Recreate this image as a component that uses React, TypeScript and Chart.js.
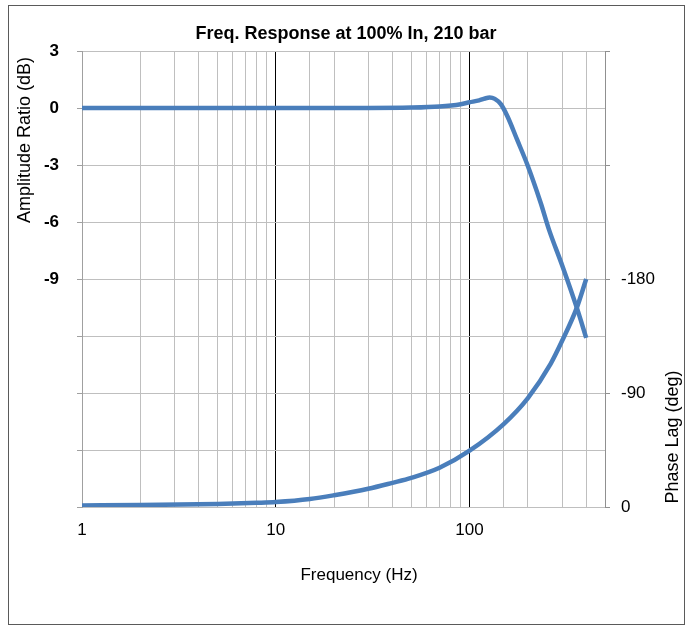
import React, { useEffect, useRef } from "react";
import { Chart, registerables } from "chart.js";

Chart.register(...registerables);

// Amplitude ratio (dB) vs frequency (Hz)
const ampFreqs = [1, 2, 5, 10, 20, 30, 50, 70, 90, 100, 112, 120, 127, 135, 145, 157, 176, 199, 233, 257, 301, 360, 400];
const ampDb = [0, 0, 0, 0, 0, 0, 0.02, 0.08, 0.2, 0.3, 0.4, 0.5, 0.55, 0.48, 0.2, -0.45, -1.67, -3.0, -5.0, -6.4, -8.3, -10.6, -12.1];

// Phase lag (deg) vs frequency (Hz)
const phaseFreqs = [1, 2, 5, 8, 10, 15, 20, 30, 40, 50, 70, 100, 150, 200, 262, 300, 357, 400];
const phaseDeg = [-1.2, -1.5, -2.4, -3.3, -3.9, -6.3, -9.3, -14.4, -19.1, -23, -31, -44.5, -65.5, -86, -113, -131, -157, -180];

const xLabeled = [1, 10, 100];
const title = "Freq. Response at 100% In, 210 bar";
const xTitle = "Frequency (Hz)";
const yTitle = "Amplitude Ratio (dB)";
const y1Title = "Phase Lag (deg)";

const FONT = "'Liberation Sans', Arial, sans-serif";
const BLUE = "#4a7ebb";
const GRID = "#bfbfbf";

const decorPlugin = {
  id: "decor",
  afterDraw(chart: any) {
    const ctx = chart.ctx;
    ctx.save();
    // outer border
    ctx.strokeStyle = "#5a5a5a";
    ctx.lineWidth = 1;
    ctx.strokeRect(8.5, 5.5, 676, 619);
    ctx.fillStyle = "#000";
    ctx.font = `bold 18px ${FONT}`;
    ctx.textAlign = "center";
    ctx.textBaseline = "alphabetic";
    ctx.fillText(title, 346, 38.5);
    ctx.font = `17px ${FONT}`;
    ctx.textBaseline = "middle";
    ctx.fillText(xTitle, 359, 575);
    ctx.font = `18px ${FONT}`;
    ctx.save();
    ctx.translate(25, 140);
    ctx.rotate(-Math.PI / 2);
    ctx.fillText(yTitle, 0, 0);
    ctx.restore();
    ctx.save();
    ctx.translate(673, 437);
    ctx.rotate(-Math.PI / 2);
    ctx.fillText(y1Title, 0, 0);
    ctx.restore();
    ctx.restore();
  },
};

export default function App() {
  const ref = useRef<HTMLCanvasElement | null>(null);
  useEffect(() => {
    if (!ref.current) return;
    const chart = new Chart(ref.current, {
      type: "line",
      data: {
        datasets: [
          {
            label: "Amplitude",
            data: ampFreqs.map((f, i) => ({ x: f, y: ampDb[i] })),
            borderColor: BLUE,
            borderWidth: 4.5,
            pointRadius: 0,
            cubicInterpolationMode: "monotone",
            yAxisID: "y",
          },
          {
            label: "Phase",
            data: phaseFreqs.map((f, i) => ({ x: f, y: phaseDeg[i] })),
            borderColor: BLUE,
            borderWidth: 4.5,
            pointRadius: 0,
            cubicInterpolationMode: "monotone",
            yAxisID: "y1",
          },
        ],
      },
      options: {
        animation: false,
        responsive: false,
        devicePixelRatio: 1,
        layout: { padding: { top: 51, left: 0, right: 0, bottom: 0 } },
        plugins: { legend: { display: false }, title: { display: false }, tooltip: { enabled: false } },
        scales: {
          x: {
            type: "logarithmic",
            min: 1,
            max: 500,
            afterFit: (s: any) => { s.height = 119; },
            border: { display: false },
            grid: {
              drawTicks: false,
              color: (c: any) => (c.tick && (c.tick.value === 10 || c.tick.value === 100) ? "#000" : GRID),
            },
            ticks: {
              autoSkip: false,
              maxRotation: 0,
              padding: 13,
              color: "#000",
              font: { family: FONT, size: 17 },
              callback: (v: any) => (xLabeled.includes(Number(v)) ? String(v) : ""),
            },
          },
          y: {
            position: "left",
            min: -21,
            max: 3,
            afterFit: (s: any) => { s.width = 82; },
            border: { display: true, color: "#a0a0a0" },
            grid: { color: GRID, tickLength: 5, tickColor: "#a0a0a0" },
            ticks: {
              stepSize: 3,
              padding: 18,
              color: "#000",
              font: { family: FONT, size: 17, weight: "bold" },
              callback: (v: any) => (Number(v) >= -9 ? String(v) : ""),
            },
          },
          y1: {
            position: "right",
            min: -360,
            max: 0,
            reverse: true,
            afterFit: (s: any) => { s.width = 91; },
            border: { display: true, color: "#909090" },
            grid: { drawOnChartArea: false, tickLength: 5, tickColor: "#909090" },
            ticks: {
              stepSize: 90,
              padding: 11,
              color: "#000",
              font: { family: FONT, size: 17 },
              callback: (v: any) => (Number(v) >= -180 ? String(v) : ""),
            },
          },
        },
      },
      plugins: [decorPlugin],
    } as any);
    return () => chart.destroy();
  }, []);
  return (
    <div style={{ position: "absolute", left: 0, top: 0, width: 696, height: 626, background: "#fff" }}>
      <canvas ref={ref} width={696} height={626} style={{ width: 696, height: 626, display: "block" }} />
    </div>
  );
}
